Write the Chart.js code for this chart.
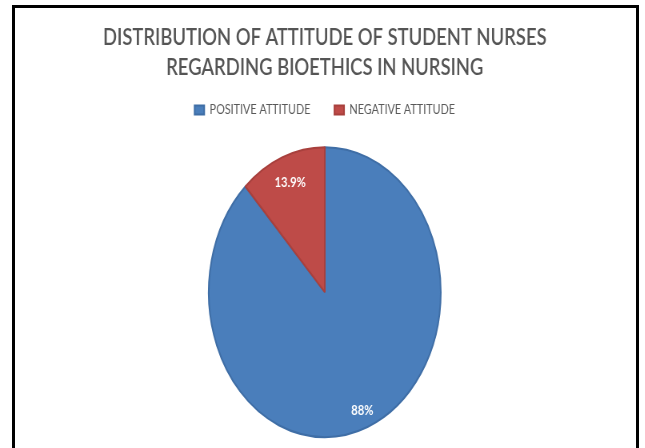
<!DOCTYPE html>
<html>
<head>
<meta charset="utf-8">
<script src="https://cdn.jsdelivr.net/npm/chart.js@4.4.0/dist/chart.umd.min.js"></script>
<style>
  html, body { margin: 0; padding: 0; background: #fff; overflow: hidden; width: 645px; height: 448px; }
  #frame { position: absolute; left: 12px; top: 5px; width: 621px; height: 500px; border: 3px solid #000; }
  #chartPie { position: absolute; left: 0; top: 0; transform: scaleX(0.8); transform-origin: 0 0; }
</style>
</head>
<body>
<div id="frame"></div>
<canvas id="chartPie" width="806" height="458"></canvas>
<script>
var titleLines = ['DISTRIBUTION OF ATTITUDE OF STUDENT NURSES', 'REGARDING BIOETHICS IN NURSING'];
var categories = ['POSITIVE ATTITUDE', 'NEGATIVE ATTITUDE'];
var values = [88, 12];
var valueLabels = ['88%', '13.9%'];
var sliceColors = ['#4a7ebb', '#be4b48'];
var sliceBorders = ['#3f6ea6', '#a8403d'];

// labels inside each slice, near the outer edge
var labelDepth = [0.88, 0.81];
var sliceLabels = {
    id: 'sliceLabels',
    afterDatasetsDraw: function(chart){
        var ctx = chart.ctx;
        var meta = chart.getDatasetMeta(0);
        ctx.save();
        ctx.fillStyle = '#ffffff';
        ctx.font = 'bold 14px Lato';
        ctx.textAlign = 'center';
        ctx.textBaseline = 'middle';
        meta.data.forEach(function(arc, i){
            var p = arc.getProps(['x', 'y', 'startAngle', 'endAngle', 'outerRadius'], true);
            var mid = (p.startAngle + p.endAngle) / 2;
            var r = p.outerRadius * labelDepth[i];
            ctx.fillText(valueLabels[i], p.x + Math.cos(mid) * r, p.y + Math.sin(mid) * r);
        });
        ctx.restore();
    }
};

var chartPie = new Chart('chartPie', {
    type: 'pie',
    data: {
        labels: categories,
        datasets: [{
            data: values,
            backgroundColor: sliceColors,
            borderColor: sliceBorders,
            borderWidth: 2,
            radius: 145,
            clip: false
        }]
    },
    options: {
        responsive: false,
        animation: false,
        events: [],
        layout: { padding: { left: 6, right: 0, top: 0, bottom: 0.5 } },
        plugins: {
            title: {
                display: true,
                text: titleLines,
                color: '#555555',
                font: { family: 'Lato', size: 23, weight: '600', lineHeight: 1.3 },
                padding: { top: 22.5, bottom: -9 }
            },
            legend: {
                display: true,
                position: 'top',
                labels: {
                    color: '#595959',
                    font: { family: 'Lato', size: 13.5 },
                    boxWidth: 12,
                    boxHeight: 9,
                    padding: 30
                }
            },
            tooltip: { enabled: false }
        }
    },
    plugins: [sliceLabels]
});
</script>
</body>
</html>
